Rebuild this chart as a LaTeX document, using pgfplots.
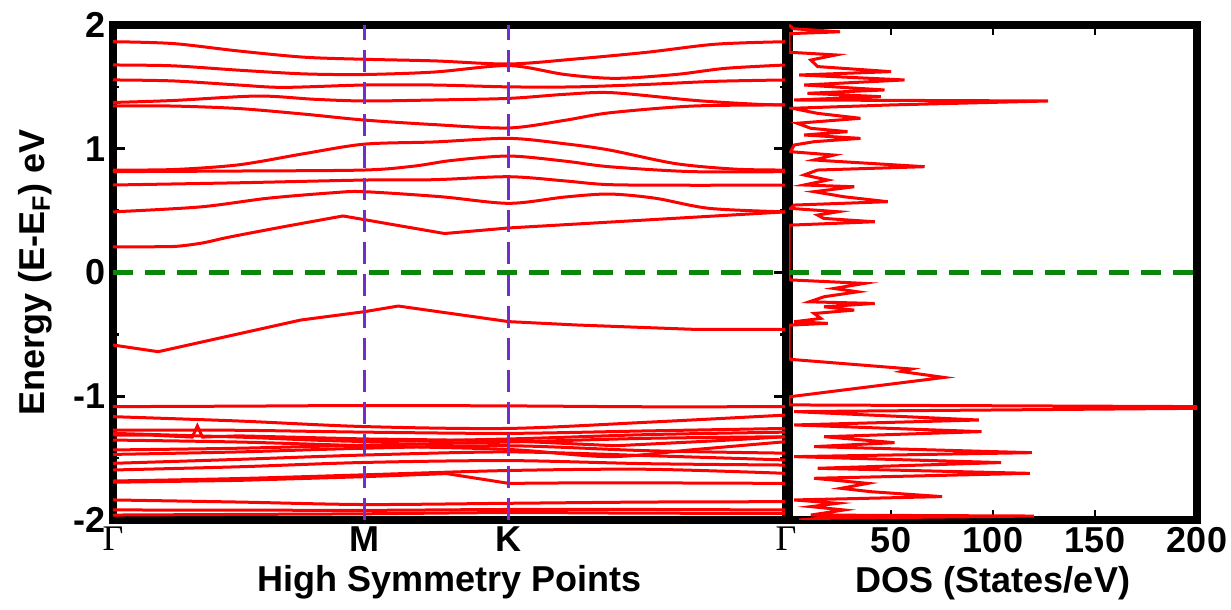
\documentclass[border=0pt]{standalone}
\usepackage{pgfplots}
\pgfplotsset{compat=1.18}
\usepackage{fontspec}
\setmainfont{Liberation Sans}
\newfontfamily\grfont{Liberation Serif}
\definecolor{efgreen}{RGB}{10,135,10}
\definecolor{kpurple}{RGB}{115,45,205}
\begin{document}
\begin{tikzpicture}
\pgfplotsset{
 every axis/.append style={
  scale only axis,
  axis line style={line width=3.6pt},
  tick style={line width=1.3pt, black},
  tick align=inside,
  ticklabel style={font=\fontsize{18}{21}\selectfont\bfseries},
  label style={font=\fontsize{18}{21}\selectfont\bfseries},
  /pgf/number format/assume math mode=true,
 },
 band/.style={red, line width=1.5pt, smooth, tension=0.5},
 sband/.style={red, line width=1.5pt},
}
\begin{axis}[
  at={(0,0)},
  width=336.5pt, height=247.5pt,
  xmin=0, xmax=670, ymin=-2, ymax=2,
  xtick={0,250,394,670},
  xticklabels={{\grfont\mdseries Γ}, M, K, {\grfont\mdseries Γ}},
  major x tick style={draw=none},
  ytick={-2,-1,0,1,2},
  yticklabels={-2,-1,0,1,2},
  minor ytick={-1.5,-0.5,0.5,1.5},
  major tick length=6pt, minor tick length=3pt,
  xlabel={High Symmetry Points},
  ylabel={Energy (E-E\textsubscript{F}) eV},
  ylabel style={yshift=4pt},
]
% conduction bands
\addplot[band] coordinates {(0,1.865)(60,1.85)(125,1.79)(190,1.74)(250,1.723)(320,1.71)(394,1.685)(460,1.725)(532,1.78)(600,1.845)(670,1.865)};
\addplot[band] coordinates {(0,1.677)(60,1.67)(125,1.635)(190,1.605)(250,1.60)(320,1.62)(394,1.672)(450,1.60)(500,1.569)(560,1.60)(610,1.65)(670,1.677)};
\addplot[band] coordinates {(0,1.556)(60,1.548)(125,1.515)(170,1.496)(250,1.515)(320,1.515)(394,1.50)(460,1.50)(532,1.52)(600,1.545)(670,1.556)};
\addplot[band] coordinates {(0,1.374)(60,1.39)(144,1.426)(200,1.40)(250,1.386)(320,1.394)(394,1.407)(450,1.44)(497,1.453)(580,1.39)(640,1.36)(670,1.354)};
\addplot[band] coordinates {(0,1.347)(60,1.345)(125,1.325)(190,1.28)(250,1.232)(320,1.195)(394,1.168)(450,1.23)(494,1.29)(577,1.345)(670,1.354)};
\addplot[band] coordinates {(0,0.828)(60,0.832)(125,0.87)(190,0.96)(250,1.037)(320,1.055)(394,1.084)(450,1.04)(494,0.99)(560,0.88)(620,0.835)(670,0.828)};
\addplot[band] coordinates {(0,0.815)(125,0.82)(250,0.828)(300,0.86)(337,0.905)(394,0.941)(450,0.90)(494,0.855)(577,0.815)(670,0.815)};
\addplot[band] coordinates {(0,0.707)(125,0.725)(250,0.747)(320,0.75)(394,0.774)(450,0.74)(494,0.71)(577,0.705)(670,0.707)};
\addplot[band] coordinates {(0,0.49)(87,0.53)(154,0.60)(220,0.645)(250,0.653)(327,0.612)(394,0.559)(450,0.61)(494,0.634)(540,0.60)(594,0.518)(670,0.49)};
\addplot[band] coordinates {(0,0.208)(40,0.208)(64,0.212)(90,0.24)(115,0.285)(170,0.37)(229,0.457)};
\addplot[sband] coordinates {(229,0.457)(330,0.315)(394,0.36)(670,0.49)};
% top valence band
\addplot[sband] coordinates {(0,-0.586)(45,-0.64)(187,-0.384)(250,-0.317)(284,-0.271)(394,-0.397)(461,-0.424)(577,-0.459)(670,-0.459)};
% valence manifold
\addplot[band] coordinates {(0,-1.084)(125,-1.08)(250,-1.075)(394,-1.078)(532,-1.085)(670,-1.084)};
\addplot[band] coordinates {(0,-1.165)(125,-1.20)(250,-1.245)(394,-1.26)(532,-1.21)(670,-1.152)};
\addplot[band] coordinates {(0,-1.273)(125,-1.275)(250,-1.29)(394,-1.30)(532,-1.28)(670,-1.26)};
\addplot[sband] coordinates {(0,-1.313)(40,-1.315)(79,-1.33)(84,-1.24)(89,-1.33)(125,-1.32)(250,-1.345)(394,-1.36)(500,-1.40)(600,-1.36)(670,-1.327)};
\addplot[band] coordinates {(0,-1.30)(125,-1.33)(250,-1.365)(394,-1.345)(532,-1.31)(670,-1.29)};
\addplot[band] coordinates {(0,-1.354)(125,-1.37)(250,-1.40)(394,-1.43)(494,-1.488)(580,-1.43)(670,-1.367)};
\addplot[band] coordinates {(0,-1.434)(125,-1.42)(250,-1.395)(394,-1.37)(532,-1.34)(670,-1.327)};
\addplot[band] coordinates {(0,-1.47)(125,-1.45)(250,-1.42)(394,-1.40)(532,-1.44)(670,-1.46)};
\addplot[band] coordinates {(0,-1.542)(125,-1.51)(250,-1.475)(394,-1.45)(532,-1.48)(670,-1.515)};
\addplot[band] coordinates {(0,-1.596)(125,-1.57)(250,-1.535)(394,-1.52)(532,-1.545)(670,-1.556)};
\addplot[band] coordinates {(0,-1.685)(125,-1.665)(250,-1.635)(394,-1.60)(532,-1.59)(670,-1.623)};
\addplot[sband] coordinates {(0,-1.695)(125,-1.68)(250,-1.65)(332,-1.625)(394,-1.704)(460,-1.70)(532,-1.70)(670,-1.704)};
\addplot[band] coordinates {(0,-1.838)(125,-1.855)(250,-1.875)(394,-1.865)(532,-1.855)(670,-1.852)};
\addplot[band] coordinates {(0,-1.919)(125,-1.92)(250,-1.922)(394,-1.915)(532,-1.915)(670,-1.919)};
\addplot[band] coordinates {(0,-1.96)(125,-1.955)(250,-1.95)(394,-1.94)(532,-1.945)(670,-1.946)};
% high symmetry lines and Fermi level
\addplot[kpurple, line width=1.6pt, dash pattern=on 11pt off 5pt] coordinates {(250,-2)(250,2)};
\addplot[kpurple, line width=1.6pt, dash pattern=on 11pt off 5pt] coordinates {(394,-2)(394,2)};
\addplot[efgreen, line width=2.6pt, dash pattern=on 10pt off 6pt] coordinates {(0,0)(670,0)};
\end{axis}

\begin{axis}[
  at={(338pt,0)},
  width=204pt, height=247.5pt,
  xmin=0, xmax=200, ymin=-2, ymax=2,
  xtick={50,100,150,200},
  ytick=\empty,
  major tick length=5pt,
  xlabel={DOS (States/eV)},
]
\addplot[sband] coordinates {
(0,2.0)(2,1.97)(25,1.945)(0,1.93)(0,1.78)
(23,1.758)(10.7,1.717)(14,1.664)(50,1.623)(5,1.596)(56.6,1.556)(7.4,1.515)(46.8,1.475)(9,1.448)(45,1.421)(2.5,1.394)(127,1.386)(50,1.354)(1.6,1.327)(14,1.286)(35,1.246)(4,1.206)(10.7,1.165)(28.7,1.138)(7.4,1.111)(35,1.084)(12.3,1.057)(2.5,1.03)(0.8,0.976)(22,0.949)(12.3,0.909)(66.5,0.855)(14,0.828)(7.4,0.788)(19,0.747)(7.4,0.707)(32,0.693)(12.3,0.653)(27,0.612)(48.4,0.572)(2.5,0.545)(0.8,0.518)(24,0.491)(14,0.464)(17,0.437)(42,0.41)(0.8,0.383)(0,0.37)(0,-0.05)
(0.8,-0.06)(37,-0.088)(22,-0.129)(33.7,-0.156)(17.2,-0.196)(9.9,-0.237)(42,-0.25)(17.2,-0.277)(32,-0.304)(12.3,-0.331)(15.6,-0.371)(2.5,-0.398)(19,-0.411)(0.8,-0.425)(0,-0.43)(0,-0.69)
(0.8,-0.702)(60,-0.78)(55,-0.80)(76,-0.848)(0.8,-1.003)(0,-1.01)(0,-1.07)
(220,-1.085)(220,-1.095)(2.5,-1.124)(93,-1.192)(2.5,-1.232)(94.4,-1.286)(17.2,-1.327)(51.7,-1.375)(12.3,-1.407)(119,-1.456)(2.5,-1.488)(104,-1.536)(14,-1.582)(118,-1.623)(12.3,-1.663)(38.6,-1.704)(25.5,-1.744)(40,-1.771)(75,-1.811)(2.5,-1.838)(23.8,-1.865)(10.7,-1.892)(27,-1.919)(10.7,-1.96)(120,-1.968)(14,-1.987)(5,-2.0)};
\addplot[efgreen, line width=2.6pt, dash pattern=on 10pt off 6pt] coordinates {(0,0)(200,0)};
\end{axis}
\pgfresetboundingbox
\path[use as bounding box] (-56.5pt,-45pt) rectangle (559pt,260pt);
\end{tikzpicture}
\end{document}
